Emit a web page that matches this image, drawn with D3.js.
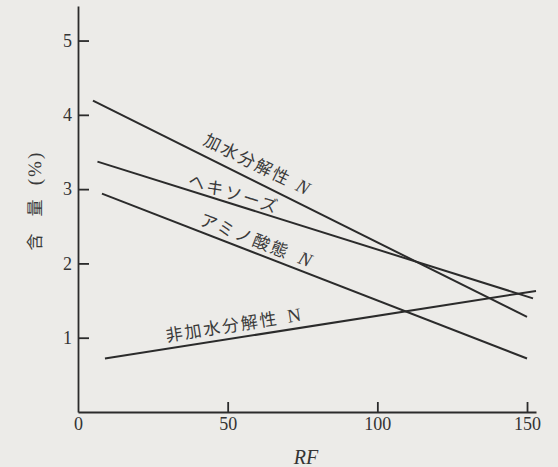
<!DOCTYPE html>
<html lang="ja">
<head>
  <meta charset="UTF-8" />
  <title>RF と含量</title>
  <script src="https://d3js.org/d3.v7.min.js"></script>
  <style>
    body { margin: 0; background: #ecebe8; }
    svg { display: block; }
    .axis path, .axis line { stroke: #2b2b2b; stroke-width: 1.8px; }
    .axis text { font-family: "Liberation Serif", serif; font-size: 18px; fill: #333; }
    .series { fill: none; stroke: #2b2b2b; stroke-width: 2px; }
    .lbl { font-family: "Noto Sans CJK JP", sans-serif; font-size: 17px; fill: #3a3a3a; letter-spacing: 2px; }
    .lbl .n { font-family: "Liberation Serif", serif; font-size: 19px; letter-spacing: 0; }
  </style>
</head>
<body>
  <svg id="chart"></svg>
  <script>
    // data (start / end of each line)
    const seriesNames   = ["加水分解性", "ヘキソーズ", "アミノ酸態", "非加水分解性"];
    const seriesSuffix  = ["N", "", "N", "N"];
    const rfStart       = [5, 6.5, 8, 9];
    const rfEnd         = [150, 152, 150, 153];
    const contentStart  = [4.19, 3.37, 2.94, 0.72];
    const contentEnd    = [1.28, 1.53, 0.72, 1.63];
    const xTicks = [0, 50, 100, 150];
    const yTicks = [1, 2, 3, 4, 5];

    // where each label sits along its line
    const labelRF     = [40, 36, 39.5, 30];
    const labelOffset = [-10, -4, -6, -7];
    const nItalic     = [true, false, true, false];
    const nGap        = [8, 0, 11, 9];

    const W = 558, H = 467;
    const svg = d3.select("#chart").attr("width", W).attr("height", H);

    const x = d3.scaleLinear().domain([0, 153]).range([78, 536]);
    const y = d3.scaleLinear().domain([0, 5.465]).range([412, 6]);

    const xAxis = svg.append("g")
      .attr("class", "axis")
      .attr("transform", `translate(0,${y(0)})`)
      .call(d3.axisBottom(x).tickValues(xTicks).tickFormat(d3.format("d"))
        .tickSize(-10).tickSizeOuter(0).tickPadding(5));
    xAxis.selectAll(".tick").filter(d => d === 0).select("line").remove();

    svg.append("g")
      .attr("class", "axis")
      .attr("transform", `translate(${x(0)},0)`)
      .call(d3.axisLeft(y).tickValues(yTicks).tickFormat(d3.format("d"))
        .tickSize(-11).tickSizeOuter(0).tickPadding(6));

    svg.append("text")
      .attr("x", 306).attr("y", 464)
      .attr("text-anchor", "middle")
      .style("font-family", "'Liberation Serif', serif")
      .style("font-style", "italic")
      .style("font-size", "20px")
      .style("fill", "#333")
      .text("RF");

    // y title, pieces stacked bottom to top
    const yTitle = [["含", 242], ["量", 208], ["(%)", 168]];
    yTitle.forEach(([s, cy]) => {
      svg.append("text")
        .attr("class", "lbl")
        .attr("transform", `translate(41,${cy}) rotate(-89.8)`)
        .attr("text-anchor", "middle")
        .style("letter-spacing", s === "(%)" ? "2px" : "0")
        .style("font-family", s === "(%)" ? "'Liberation Serif', serif" : null)
        .style("font-size", s === "(%)" ? "19px" : "17px")
        .text(s);
    });

    const line = d3.line().x(d => x(d[0])).y(d => y(d[1]));

    seriesNames.forEach((name, i) => {
      const pts = [[rfStart[i], contentStart[i]], [rfEnd[i], contentEnd[i]]];
      svg.append("path").attr("class", "series").datum(pts).attr("d", line);

      const ang = Math.atan2(y(contentEnd[i]) - y(contentStart[i]), x(rfEnd[i]) - x(rfStart[i])) * 180 / Math.PI;
      const t = (labelRF[i] - rfStart[i]) / (rfEnd[i] - rfStart[i]);
      const cy = contentStart[i] + t * (contentEnd[i] - contentStart[i]);

      const txt = svg.append("text")
        .attr("class", "lbl")
        .attr("transform", `translate(${x(labelRF[i])},${y(cy)}) rotate(${ang})`)
        .attr("y", labelOffset[i]);
      txt.append("tspan").text(name);
      if (seriesSuffix[i]) {
        txt.append("tspan")
          .attr("class", "n")
          .attr("dx", nGap[i])
          .style("font-style", nItalic[i] ? "italic" : "normal")
          .text(seriesSuffix[i]);
      }
    });
  </script>
</body>
</html>
